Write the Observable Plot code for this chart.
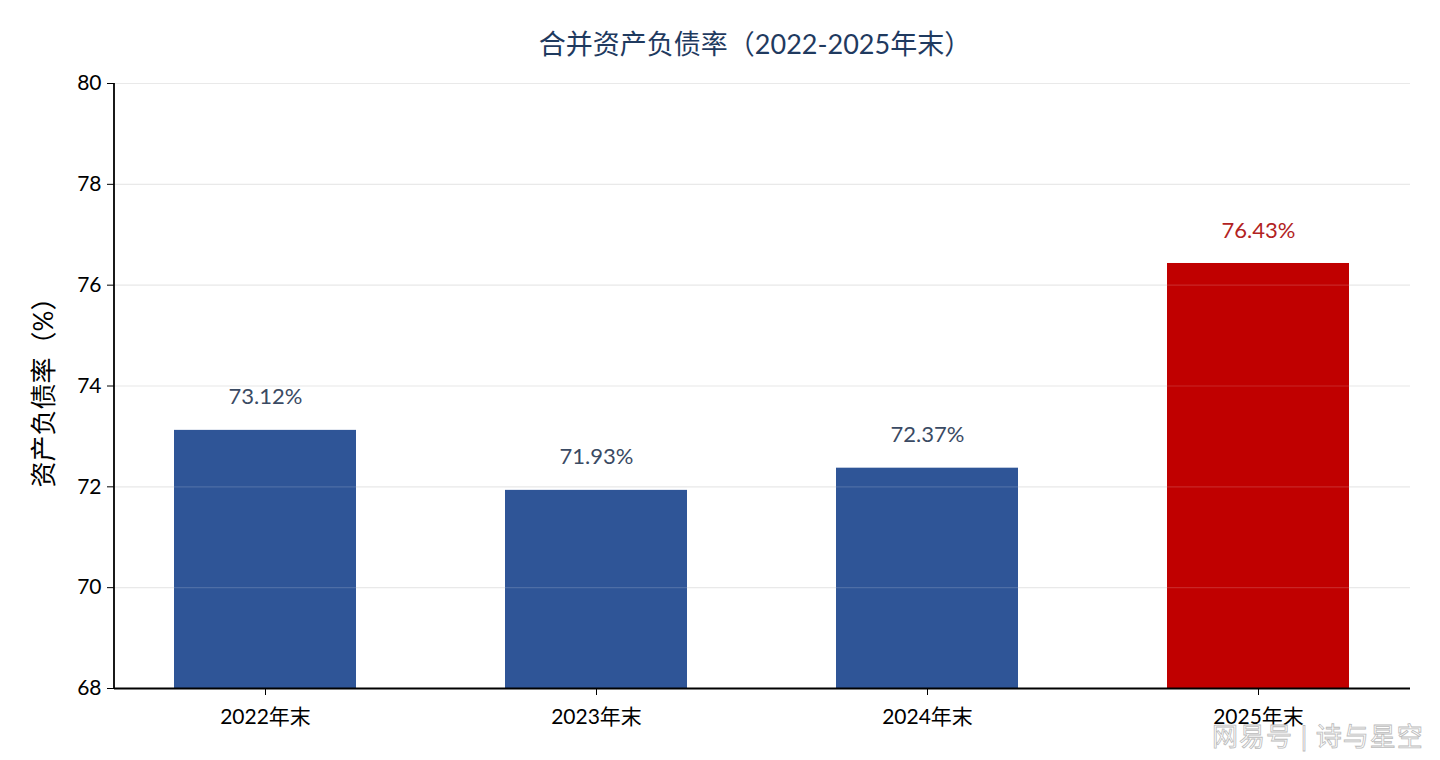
<!DOCTYPE html>
<html><head><meta charset="utf-8">
<script src="https://cdn.jsdelivr.net/npm/d3@7"></script>
<script src="https://cdn.jsdelivr.net/npm/@observablehq/plot@0.6"></script>
<style>
body{margin:0;background:#fff;width:1440px;height:760px;overflow:hidden;position:relative;font-family:Lato,"Noto Sans CJK SC",sans-serif;}
#title{height:70px;line-height:88px;text-align:center;font-size:27px;color:#1f3a5f;padding-left:70px;box-sizing:border-box;}
#wm{position:absolute;left:1212px;top:716px;font-size:26px;color:#fff;-webkit-text-stroke:0.8px #bbb;letter-spacing:1px;}
</style></head>
<body>
<div id="title">合并资产负债率（2022-2025年末）</div>
<div id="chart"></div>
<div id="wm">网易号 | 诗与星空</div>
<script>
const years = ["2022年末","2023年末","2024年末","2025年末"];
const rates = [73.12, 71.93, 72.37, 76.43];
const colors = ["#2f5597","#2f5597","#2f5597","#c00000"];
const labelColors = ["#3a4a63","#3a4a63","#3a4a63","#b22222"];
const yTicks = [68,70,72,74,76,78,80];

const data = years.map((y,i)=>({year:y, rate:rates[i], color:colors[i], lc:labelColors[i], label:rates[i].toFixed(2)+"%"}));
const grid = yTicks.filter(t=>t>68);

const chart = Plot.plot({
  width:1440, height:690,
  marginLeft:114, marginRight:30, marginTop:13, marginBottom:72,
  style:{fontFamily:'Lato,"Noto Sans CJK SC",sans-serif', fontSize:"21px", color:"#000", background:"#fff"},
  x:{domain:years, paddingInner:0.45, paddingOuter:0.18, label:null},
  y:{domain:[68,80], ticks:yTicks, label:null},
  marks:[
    Plot.ruleY(grid,{stroke:"#e6e6e6", strokeWidth:1.2}),
    Plot.barY(data,{x:"year", y1:68, y2:"rate", fill:d=>d.color}),
    Plot.ruleY(grid,{stroke:"#ffffff", strokeOpacity:0.15, strokeWidth:1.2}),
    Plot.text(data,{x:"year", y:"rate", text:"label", dy:-33, fill:d=>d.lc, fontSize:22}),
    Plot.axisY({ticks:yTicks, tickSize:7, tickPadding:6, label:null, fontSize:21, stroke:"#000"}),
    Plot.axisX({tickSize:7, tickPadding:14, label:null, fontSize:21}),
    Plot.ruleY([68],{stroke:"#000", strokeWidth:1.8}),
    Plot.text(["资产负债率（%）"],{frameAnchor:"left", textAnchor:"middle", dx:-70, rotate:-90, fontSize:26, fill:"#000"})
  ]
});
document.getElementById("chart").appendChild(chart);
d3.select(chart).append("line").attr("x1",114).attr("x2",114).attr("y1",13).attr("y2",618).attr("stroke","#000").attr("stroke-width",1.8);
</script>
</body></html>
